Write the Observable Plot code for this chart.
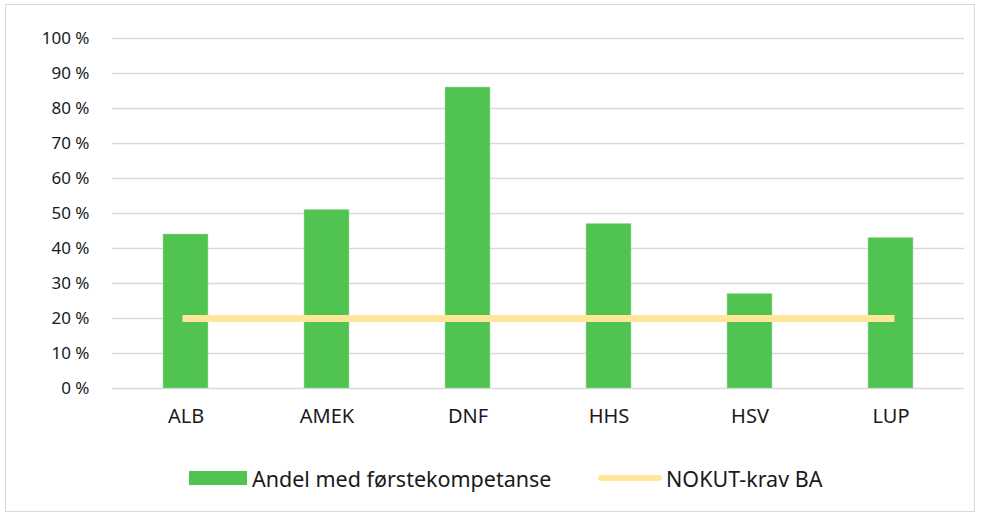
<!DOCTYPE html>
<html>
<head>
<meta charset="utf-8">
<script src="https://cdn.jsdelivr.net/npm/d3@7"></script>
<script src="https://cdn.jsdelivr.net/npm/@observablehq/plot@0.6"></script>
<style>
  html, body { margin: 0; padding: 0; background: #fff; }
  #frame { position: absolute; left: 5px; top: 4px; width: 970px; height: 508px; border: 1.5px solid #d9d9d9; box-sizing: border-box; }
  #chart { position: absolute; left: 0; top: 0; }
  #legend { position: absolute; left: 0; top: 465px; width: 982px; height: 26px; font-family: "Noto Sans", sans-serif; font-size: 21.5px; color: #1a1a1a; }
  .item { position: absolute; top: 0; display: flex; align-items: center; height: 26px; }
  .sw-bar { width: 58px; height: 14px; background: #50c350; margin-right: 5px; }
  .sw-line { width: 64px; height: 6px; background: #ffe699; border-radius: 3px; margin-right: 4px; }
  .xax text { font-size: 20px; }
</style>
</head>
<body>
<div id="frame"></div>
<div id="chart"></div>
<div id="legend">
  <div class="item" style="left:189px"><div class="sw-bar"></div><span>Andel med førstekompetanse</span></div>
  <div class="item" style="left:598px"><div class="sw-line"></div><span>NOKUT-krav BA</span></div>
</div>
<script>
const categories = ["ALB", "AMEK", "DNF", "HHS", "HSV", "LUP"];
const shareValues = [44, 51, 86, 47, 27, 43];
const nokutValues = [20, 20, 20, 20, 20, 20];
const yTicks = [0, 10, 20, 30, 40, 50, 60, 70, 80, 90, 100];

const barData = categories.map((c, i) => ({cat: c, value: shareValues[i]}));
const lineData = categories.map((c, i) => ({cat: c, value: nokutValues[i]}));

const chart = Plot.plot({
  width: 982,
  height: 445,
  marginLeft: 112,
  marginRight: 18,
  marginTop: 38,
  marginBottom: 57,
  style: {fontFamily: "'Noto Sans', sans-serif", fontSize: "17px", color: "#1a1a1a", background: "transparent"},
  x: {domain: categories, paddingInner: 0.683, paddingOuter: 0.342, label: null, axis: null},
  y: {domain: [0, 100], ticks: yTicks, label: null, tickSize: 0, tickPadding: 23,
      tickFormat: d => d + " %"},
  marks: [
    Plot.gridY(yTicks, {stroke: "#d9d9d9", strokeOpacity: 1, strokeWidth: 1.5}),
    Plot.axisX({tickSize: 0, tickPadding: 20, label: null, className: "xax"}),
    Plot.barY(barData, {x: "cat", y: "value", fill: "#50c350", stroke: "#a8e0a8", strokeWidth: 0.5}),
    Plot.lineY(lineData, {x: "cat", y: "value", stroke: "#ffe699", strokeWidth: 7, strokeLinecap: "square"})
  ]
});
document.getElementById("chart").appendChild(chart);
</script>
</body>
</html>
